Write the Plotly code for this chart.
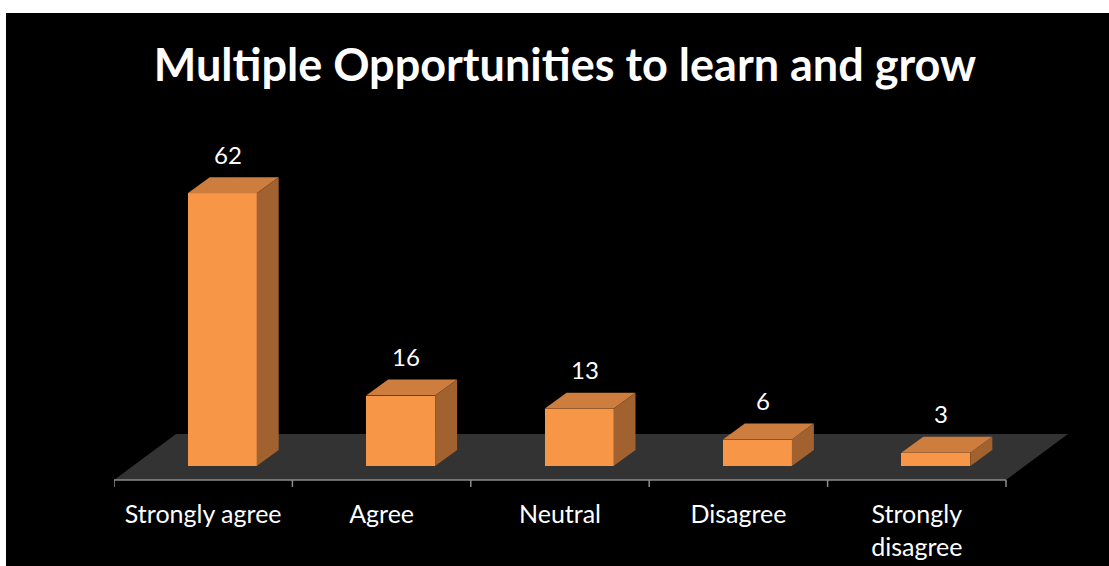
import plotly.graph_objects as go

categories = ["Strongly agree", "Agree", "Neutral", "Disagree", "Strongly<br>disagree"]
values = [62, 16, 13, 6, 3]

W, H = 1109, 566
ML, MR, MT, MB = 114, 29, 140, 76
PX_PER_X = 178.4      # pixels per category
PX_PER_Y = 4.4        # pixels per value unit
plot_w = W - ML - MR
plot_h = H - MT - MB
x_range = [-0.5, -0.5 + plot_w / PX_PER_X]
y_bottom = -24 / PX_PER_Y
y_range = [y_bottom, y_bottom + plot_h / PX_PER_Y]

# 3-D geometry (in axis units)
bar_w = 69 / PX_PER_X
bar_shift = 19 / PX_PER_X
dx = 22 / PX_PER_X
dy = 16 / PX_PER_Y
floor_front = -14 / PX_PER_Y
floor_dx = 62 / PX_PER_X
floor_dy = 46 / PX_PER_Y

FRONT = "#F79646"
TOP = "#CD7D3D"
SIDE = "#A1622F"
FLOOR = "#333333"
AXIS = "#8C8C8C"

xs = list(range(len(values)))
fig = go.Figure()

# front faces
fig.add_trace(go.Bar(
    x=xs, y=values, width=bar_w, offset=bar_shift - bar_w / 2,
    marker=dict(color=FRONT, line=dict(width=0)), hoverinfo="skip", showlegend=False,
))

# top and side faces
for x, v in zip(xs, values):
    L = x + bar_shift - bar_w / 2
    R = L + bar_w
    fig.add_trace(go.Scatter(
        x=[L, R, R + dx, L + dx, L], y=[v, v, v + dy, v + dy, v],
        fill="toself", fillcolor=TOP, mode="lines", line=dict(width=0),
        hoverinfo="skip", showlegend=False))
    fig.add_trace(go.Scatter(
        x=[R, R + dx, R + dx, R, R], y=[0, dy, v + dy, v, 0],
        fill="toself", fillcolor=SIDE, mode="lines", line=dict(width=0),
        hoverinfo="skip", showlegend=False))

n = len(values)
# floor as below-layer shape
x0, x1 = -0.5, n - 0.5
f0, f1 = floor_front, floor_front + floor_dy
fig.add_shape(type="path", xref="x", yref="y", layer="below",
              path=f"M {x0},{f0} L {x1},{f0} L {x1 + floor_dx},{f1} L {x0 + floor_dx},{f1} Z",
              fillcolor=FLOOR, line=dict(width=0))

# axis line and ticks
fig.add_trace(go.Scatter(x=[x0, x1], y=[f0, f0], mode="lines",
                         line=dict(color=AXIS, width=1.5), hoverinfo="skip", showlegend=False))
tick_len = 7 / PX_PER_Y
for i in range(n + 1):
    t = x0 + i
    fig.add_trace(go.Scatter(x=[t, t], y=[f0, f0 - tick_len], mode="lines",
                             line=dict(color=AXIS, width=1.5), hoverinfo="skip", showlegend=False))

# value labels
label_off = 39 / PX_PER_Y
for x, v in zip(xs, values):
    fig.add_annotation(x=x + bar_shift + dx / 2 - 0.03, y=v + label_off, text=str(v),
                       showarrow=False, font=dict(family="Lato", size=24, color="white"))

# black background panel (white strip at top/left)
fig.add_shape(type="rect", xref="paper", yref="paper", layer="below",
              x0=(6 - ML) / plot_w, x1=(W - ML) / plot_w,
              y0=-MB / plot_h, y1=(H - 13 - MB) / plot_h,
              fillcolor="black", line=dict(width=0))

fig.update_layout(
    width=W, height=H,
    margin=dict(l=ML, r=MR, t=MT, b=MB, pad=0, autoexpand=False),
    paper_bgcolor="white", plot_bgcolor="black",
    title=dict(text="<b>Multiple Opportunities to learn and grow</b>",
               x=565 / W, xref="container", xanchor="center",
               y=1 - 65 / H, yref="container", yanchor="middle",
               font=dict(family="Lato", size=45, color="white")),
    xaxis=dict(range=x_range, tickvals=xs, ticktext=categories, showgrid=False,
               zeroline=False, showline=False, ticks="", ticklabelstandoff=7,
               automargin=False,
               tickfont=dict(family="Lato", size=25, color="white")),
    yaxis=dict(range=y_range, visible=False, showgrid=False, zeroline=False,
               automargin=False),
    bargap=0,
)

fig.write_html("out.html", config={"displayModeBar": False},
               post_script="document.body.style.margin='0';document.body.style.overflow='hidden';")
